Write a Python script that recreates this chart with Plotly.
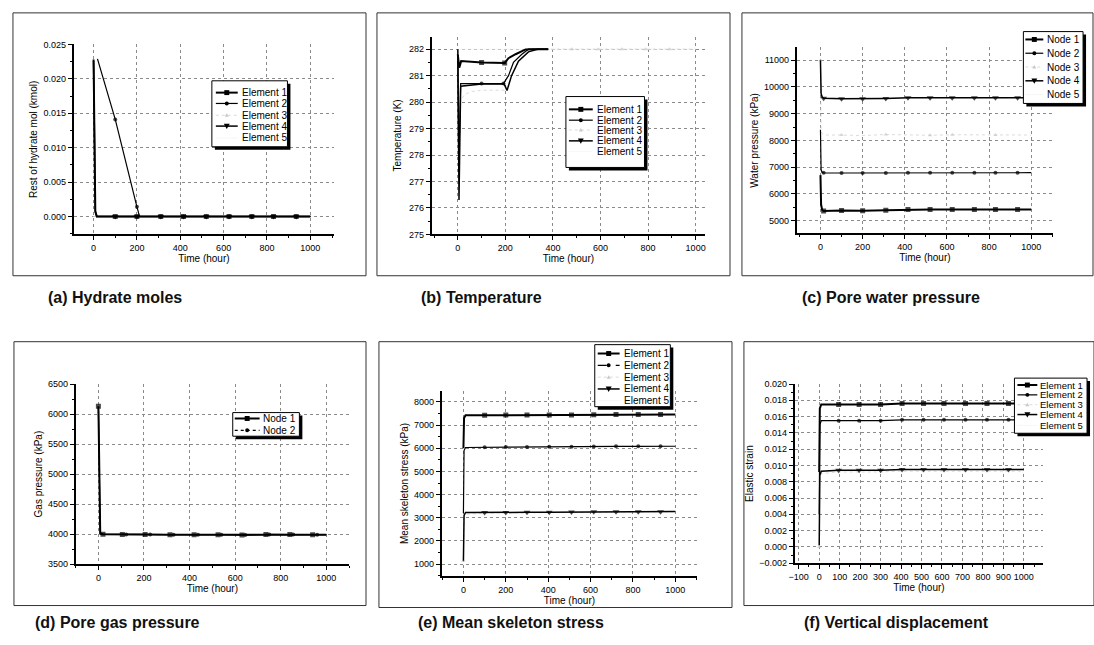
import plotly.graph_objects as go

W, H = 1094, 645
FONT = "Arial, Liberation Sans, sans-serif"

# ------------------------------------------------------------------ data
# (a) Hydrate moles
A_T1 = [0, 8, 15, 100, 200, 310, 415, 520, 625, 730, 830, 935, 1000]
A_E1 = [0.0228, 0.0008, 0, 0, 0, 0, 0, 0, 0, 0, 0, 0, 0]
A_T2 = [18, 100, 200, 212, 310, 415, 520, 625, 730, 830, 935, 1000]
A_E2 = [0.0229, 0.0141, 0.0014, 0, 0, 0, 0, 0, 0, 0, 0, 0]
A_E3 = [0.0, 0, 0, 0, 0, 0, 0, 0, 0, 0, 0, 0, 0]
A_E4 = [0.0226, 0.0006, 0, 0, 0, 0, 0, 0, 0, 0, 0, 0, 0]
A_E5 = [0.0, 0, 0, 0, 0, 0, 0, 0, 0, 0, 0, 0, 0]
A_MARK = [100, 200, 310, 415, 520, 625, 730, 830, 935]

# (b) Temperature
B_T1 = [0, 6, 14, 100, 197, 213, 243, 285, 320, 380]
B_E1 = [281.8, 281.3, 281.55, 281.5, 281.48, 281.66, 281.81, 281.99, 282.0, 282.0]
B_T2 = [0, 4, 12, 100, 192, 213, 234, 268, 297, 380]
B_E2 = [281.7, 277.6, 280.7, 280.7, 280.7, 281.0, 281.5, 281.8, 282.0, 282.0]
B_T3 = [0, 5, 12, 30, 60, 100, 200, 226, 255, 297, 330, 480, 590, 690, 790, 890, 1000]
B_E3 = [282.0, 279.5, 280.07, 280.3, 280.4, 280.45, 280.45, 281.0, 281.55, 281.9, 282.0,
        282.0, 282.0, 282.0, 282.0, 282.0, 282.0]
B_T4 = [0, 5, 12, 100, 195, 207, 226, 255, 297, 335, 380]
B_E4 = [282.0, 276.3, 280.6, 280.68, 280.68, 280.44, 281.0, 281.55, 281.9, 282.0, 282.0]
B_T5 = [0, 400, 1000]
B_E5 = [282.0, 282.0, 282.0]
B_MARK = [100, 192, 197]
B_MARK3 = [480, 590, 690, 790, 890]

# (c) Pore water pressure
C_T = [0, 3, 8, 15, 100, 200, 310, 415, 520, 625, 730, 830, 935, 1000]
C_N1 = [6700, 5600, 5400, 5360, 5380, 5370, 5390, 5410, 5415, 5415, 5415, 5415, 5415, 5415]
C_N2 = [8400, 6900, 6800, 6785, 6780, 6780, 6780, 6790, 6790, 6790, 6790, 6790, 6790, 6790]
C_N3 = [11000, 8400, 8250, 8200, 8200, 8180, 8220, 8200, 8190, 8210, 8200, 8200, 8200, 8200]
C_N4 = [11000, 9750, 9620, 9575, 9560, 9560, 9570, 9590, 9590, 9590, 9590, 9590, 9590, 9590]
C_N5 = [11000, 9800, 9650, 9600, 9580, 9580, 9590, 9600, 9600, 9600, 9600, 9600, 9600, 9600]
C_MARK = [15, 100, 200, 310, 415, 520, 625, 730, 830, 935]
C_MARK3 = [0, 100, 310, 520, 625, 830]

# (d) Pore gas pressure
D_T1 = [0, 8, 20, 105, 205, 314, 420, 525, 630, 735, 840, 940, 1000]
D_N1 = [6130, 4010, 4000, 3995, 3995, 3990, 3990, 3990, 3985, 3995, 3995, 3990, 3990]
D_T2 = [0, 8, 20, 122, 227, 330, 437, 540, 645, 750, 855, 960, 1000]
D_N2 = [6100, 4010, 4000, 3995, 3995, 3990, 3990, 3990, 3985, 3995, 3995, 3990, 3990]
D_MARK1 = [0, 20, 105, 205, 314, 420, 525, 630, 735, 840, 940]
D_MARK2 = [122, 227, 330, 437, 540, 645, 750, 855, 960]

# (e) Mean skeleton stress
E_T = [0, 3, 10, 100, 200, 300, 405, 510, 615, 720, 825, 930, 1000]
E_E1 = [6000, 7300, 7420, 7425, 7430, 7430, 7430, 7435, 7445, 7450, 7450, 7450, 7450]
E_E2 = [3200, 5900, 6030, 6040, 6050, 6055, 6060, 6065, 6075, 6080, 6080, 6080, 6085]
E_E3 = [1150, 3000, 3150, 3200, 3210, 3220, 3230, 3240, 3250, 3255, 3255, 3255, 3260]
E_E4 = [1150, 3100, 3230, 3225, 3230, 3235, 3240, 3250, 3260, 3265, 3265, 3265, 3270]
E_E5 = [1150, 3050, 3200, 3210, 3220, 3230, 3235, 3245, 3255, 3260, 3260, 3260, 3265]
E_MARK = [100, 200, 300, 405, 510, 615, 720, 825, 930]
E_MARK3 = [0]

# (f) Vertical displacement (elastic strain)
F_T = [0, 3, 10, 95, 195, 300, 405, 510, 610, 715, 820, 925, 1000]
F_E1 = [0.0092, 0.0170, 0.0175, 0.0175, 0.0175, 0.0175, 0.0176, 0.0176, 0.0176, 0.0176, 0.0176, 0.0176, 0.0176]
F_E2 = [0.0040, 0.0150, 0.0155, 0.0155, 0.0155, 0.0155, 0.0156, 0.0156, 0.0156, 0.0156, 0.0156, 0.0156, 0.0156]
F_E3 = [0.0000, 0.0080, 0.0090, 0.0092, 0.0092, 0.0092, 0.0093, 0.0093, 0.0093, 0.0093, 0.0093, 0.0093, 0.0093]
F_E4 = [0.0002, 0.0088, 0.0093, 0.0094, 0.0094, 0.0094, 0.0095, 0.0095, 0.0095, 0.0095, 0.0095, 0.0095, 0.0095]
F_E5 = [0.0000, 0.0085, 0.0092, 0.0093, 0.0093, 0.0093, 0.0094, 0.0094, 0.0094, 0.0094, 0.0094, 0.0094, 0.0094]
F_MARK = [95, 195, 300, 405, 510, 610, 715, 820, 925]
F_MARK3 = [0]

ELEMENTS = ["Element 1", "Element 2", "Element 3", "Element 4", "Element 5"]
NODES = ["Node 1", "Node 2", "Node 3", "Node 4", "Node 5"]
CAPTIONS = ["(a) Hydrate moles", "(b) Temperature", "(c) Pore water pressure",
            "(d) Pore gas pressure", "(e) Mean skeleton stress", "(f) Vertical displacement"]
YTITLES = ["Rest of hydrate mol (kmol)", "Temperature (K)", "Water pressure (kPa)",
           "Gas pressure (kPa)", "Mean skeleton stress (kPa)", "Elastic strain"]
XTITLE = "Time (hour)"

# ------------------------------------------------------------------ styles
STY = [
    dict(color="black", width=2.0, dash="solid", symbol="square", size=5, mcolor="black"),
    dict(color="black", width=1.2, dash="solid", symbol="circle", size=4, mcolor="black"),
    dict(color="#d2d2d2", width=0.8, dash="dot", symbol="triangle-up", size=4, mcolor="#c8c8c8"),
    dict(color="black", width=1.5, dash="solid", symbol="triangle-down", size=6, mcolor="black"),
    dict(color="#f4f4f4", width=0.8, dash="solid", symbol="diamond", size=4, mcolor="#f4f4f4"),
]


def X(p):
    return p / W


def Y(p):
    return 1 - p / H


fig = go.Figure()
shapes = []
annos = []


def add_series(k, t, v, marks, si, name, dash=None):
    st = STY[si]
    sizes = [st["size"] if tt in marks else 0 for tt in t]
    fig.add_trace(go.Scatter(
        x=t, y=v, mode="lines+markers", name=name, showlegend=False,
        xaxis="x" if k == 1 else f"x{k}", yaxis="y" if k == 1 else f"y{k}",
        line=dict(color=st["color"], width=st["width"], dash=dash or st["dash"]),
        marker=dict(symbol=st["symbol"], size=sizes, color=st["mcolor"], line=dict(width=0)),
        hoverinfo="skip"))


# panel geometry (pixels): plot box, ranges, ticks
PANELS = [
    dict(k=1, px=(68, 330), py=(40, 233), xr=[-92, 1110], yr=[-0.0026, 0.025],
         xd=200, yd=0.005, fmt=".3f", ystand=4, frame=(7, 8, 362, 275), cap=(110, 297)),
    dict(k=2, px=(428, 703), py=(32, 233), xr=[-110, 1040], yr=[275, 282.48],
         xd=200, yd=1, fmt="d", ystand=6, frame=(373, 8, 728, 275), cap=(478, 297)),
    dict(k=3, px=(795, 1053), py=(43, 232), xr=[-113, 1104], yr=[4520, 11480],
         xd=200, yd=1000, fmt="d", ystand=4, frame=(740, 8, 1093, 275), cap=(890, 297)),
    dict(k=4, px=(70, 345), py=(385, 568), xr=[-100, 1100], yr=[3500, 6500],
         xd=200, yd=500, fmt="d", ystand=4, frame=(8, 342, 362, 610), cap=(112, 627)),
    dict(k=5, px=(438, 695), py=(392, 580), xr=[-103, 1103], yr=[490, 8470],
         xd=200, yd=1000, fmt="d", ystand=4, frame=(375, 342, 730, 612), cap=(508, 627)),
    dict(k=6, px=(793, 1043), py=(385, 567), xr=[-120, 1095], yr=[-0.002, 0.020],
         xd=100, yd=0.002, fmt=".3f", ystand=4, frame=(742, 342, 1094, 610), cap=(895, 627)),
]

# series per panel
add_series(1, A_T1, A_E5, A_MARK, 4, ELEMENTS[4])
add_series(1, A_T1, A_E3, A_MARK, 2, ELEMENTS[2])
add_series(1, A_T1, A_E4, A_MARK, 3, ELEMENTS[3])
add_series(1, A_T2, A_E2, A_MARK, 1, ELEMENTS[1])
add_series(1, A_T1, A_E1, A_MARK, 0, ELEMENTS[0])

add_series(2, B_T5, B_E5, [], 4, ELEMENTS[4])
add_series(2, B_T3, B_E3, B_MARK3, 2, ELEMENTS[2])
add_series(2, B_T4, B_E4, [], 3, ELEMENTS[3])
add_series(2, B_T2, B_E2, B_MARK, 1, ELEMENTS[1])
add_series(2, B_T1, B_E1, B_MARK, 0, ELEMENTS[0])

add_series(3, C_T, C_N5, [], 4, NODES[4])
add_series(3, C_T, C_N3, C_MARK3, 2, NODES[2])
add_series(3, C_T, C_N4, C_MARK, 3, NODES[3])
add_series(3, C_T, C_N2, C_MARK, 1, NODES[1])
add_series(3, C_T, C_N1, C_MARK, 0, NODES[0])

add_series(4, D_T2, D_N2, D_MARK2, 1, NODES[1])
add_series(4, D_T1, D_N1, D_MARK1, 0, NODES[0])

add_series(5, E_T, E_E5, [], 4, ELEMENTS[4])
add_series(5, E_T, E_E3, E_MARK3, 2, ELEMENTS[2])
add_series(5, E_T, E_E4, E_MARK, 3, ELEMENTS[3])
add_series(5, E_T, E_E2, E_MARK, 1, ELEMENTS[1])
add_series(5, E_T, E_E1, E_MARK, 0, ELEMENTS[0])

add_series(6, F_T, F_E5, [], 4, ELEMENTS[4])
add_series(6, F_T, F_E3, F_MARK3, 2, ELEMENTS[2])
add_series(6, F_T, F_E4, F_MARK, 3, ELEMENTS[3])
add_series(6, F_T, F_E2, F_MARK, 1, ELEMENTS[1])
add_series(6, F_T, F_E1, F_MARK, 0, ELEMENTS[0])

layout_axes = {}
for p in PANELS:
    k = p["k"]
    xs = "" if k == 1 else str(k)
    common = dict(showline=True, linecolor="black", linewidth=1.5, ticks="outside",
                  ticklen=4, tickwidth=1, tickcolor="black", showgrid=True,
                  gridcolor="#8a8a8a", griddash="dot", gridwidth=1, zeroline=False,
                  tickfont=dict(family=FONT, size=9, color="black"), mirror=False,
                  layer="below traces")
    layout_axes[f"xaxis{xs}"] = dict(
        common, domain=[X(p["px"][0]), X(p["px"][1])], range=p["xr"],
        anchor=f"y{xs}", tick0=0, dtick=p["xd"],
        minor=dict(ticks="outside", ticklen=2, tickcolor="black", dtick=p["xd"] / 2, showgrid=False),
        title=dict(text=XTITLE, font=dict(family=FONT, size=10, color="black"), standoff=0))
    layout_axes[f"yaxis{xs}"] = dict(
        common, domain=[Y(p["py"][1]), Y(p["py"][0])], range=p["yr"],
        anchor=f"x{xs}", tick0=0, dtick=p["yd"], tickformat=p["fmt"],
        minor=dict(ticks="outside", ticklen=2, tickcolor="black", dtick=p["yd"] / 2, showgrid=False),
        title=dict(text=YTITLES[k - 1], font=dict(family=FONT, size=10, color="black"),
                   standoff=p["ystand"]))
    fx0, fy0, fx1, fy1 = p["frame"]
    shapes.append(dict(type="rect", xref="paper", yref="paper", x0=X(fx0), x1=X(fx1),
                       y0=Y(fy1), y1=Y(fy0), line=dict(color="#333333", width=1), layer="below"))
    annos.append(dict(text="<b>" + CAPTIONS[k - 1] + "</b>", x=X(p["cap"][0]), y=Y(p["cap"][1]),
                      xref="paper", yref="paper", showarrow=False, xanchor="center",
                      yanchor="middle", font=dict(family=FONT, size=16, color="#111111")))


# ------------------------------------------------------------------ legends (drawn boxes)
def marker_shape(si, cx, cy):
    st = STY[si]
    c = st["mcolor"]
    s = st["size"] / 2.0
    if st["symbol"] == "square":
        return dict(type="rect", x0=X(cx - s), x1=X(cx + s), y0=Y(cy + s), y1=Y(cy - s),
                    fillcolor=c, line=dict(width=0))
    if st["symbol"] == "circle":
        return dict(type="circle", x0=X(cx - s), x1=X(cx + s), y0=Y(cy + s), y1=Y(cy - s),
                    fillcolor=c, line=dict(width=0))
    if st["symbol"] == "triangle-down":
        path = f"M{X(cx - s)},{Y(cy - s * 0.8)} L{X(cx + s)},{Y(cy - s * 0.8)} L{X(cx)},{Y(cy + s)} Z"
        return dict(type="path", path=path, fillcolor=c, line=dict(width=0))
    if st["symbol"] == "triangle-up":
        path = f"M{X(cx - s)},{Y(cy + s * 0.8)} L{X(cx + s)},{Y(cy + s * 0.8)} L{X(cx)},{Y(cy - s)} Z"
        return dict(type="path", path=path, fillcolor=c, line=dict(width=0))
    return None


LEGENDS = [
    dict(box=(207, 77, 283, 144), rows=[89, 100, 112, 123, 135], lx=(211, 233), tx=235,
         names=ELEMENTS, fs=10, dash={}),
    dict(box=(563, 93, 642, 165), rows=[106, 117, 127, 138, 149], lx=(566, 590), tx=592,
         names=ELEMENTS, fs=10, dash={}),
    dict(box=(1023, 27, 1083, 100), rows=[35, 49, 63, 77, 91], lx=(1025, 1043), tx=1045,
         names=NODES, fs=10, dash={}),
    dict(box=(228, 414, 295, 438), rows=[420, 432], lx=(230, 255), tx=256,
         names=NODES[:2], fs=10, dash={1: "dot"}),
    dict(box=(592, 345, 668, 408), rows=[354, 366, 378, 390, 402], lx=(595, 617), tx=619,
         names=ELEMENTS, fs=10, dash={1: "dash"}),
    dict(box=(1014, 379, 1087, 435), rows=[386, 396, 406, 416, 427], lx=(1017, 1037), tx=1038,
         names=ELEMENTS, fs=9.5, dash={}),
]

for lg in LEGENDS:
    bx0, by0, bx1, by1 = lg["box"]
    shapes.append(dict(type="rect", x0=X(bx0 + 3), x1=X(bx1 + 3), y0=Y(by1 + 3), y1=Y(by0 + 3),
                       fillcolor="black", line=dict(width=0), layer="above"))
    shapes.append(dict(type="rect", x0=X(bx0), x1=X(bx1), y0=Y(by1), y1=Y(by0),
                       fillcolor="white", line=dict(color="black", width=1), layer="above"))
    for i, (ry, nm) in enumerate(zip(lg["rows"], lg["names"])):
        st = STY[i]
        shapes.append(dict(type="line", x0=X(lg["lx"][0]), x1=X(lg["lx"][1]), y0=Y(ry), y1=Y(ry),
                           line=dict(color=st["color"], width=st["width"],
                                     dash=lg["dash"].get(i, st["dash"])), layer="above"))
        ms = marker_shape(i, (lg["lx"][0] + lg["lx"][1]) / 2.0, ry)
        if ms is not None:
            ms.update(xref="paper", yref="paper", layer="above")
            shapes.append(ms)
        annos.append(dict(text=nm, x=X(lg["tx"]), y=Y(ry), xref="paper", yref="paper",
                          showarrow=False, xanchor="left", yanchor="middle",
                          font=dict(family=FONT, size=lg["fs"], color="black")))

for s in shapes:
    s.setdefault("xref", "paper")
    s.setdefault("yref", "paper")

fig.update_layout(
    width=W, height=H, autosize=False,
    margin=dict(l=0, r=0, t=0, b=0, pad=0),
    paper_bgcolor="white", plot_bgcolor="white",
    font=dict(family=FONT, size=10, color="black"),
    showlegend=False,
    shapes=shapes, annotations=annos,
    **layout_axes,
)

fig.write_html("out.html", config={"displayModeBar": False},
               post_script="document.body.style.margin='0';")
